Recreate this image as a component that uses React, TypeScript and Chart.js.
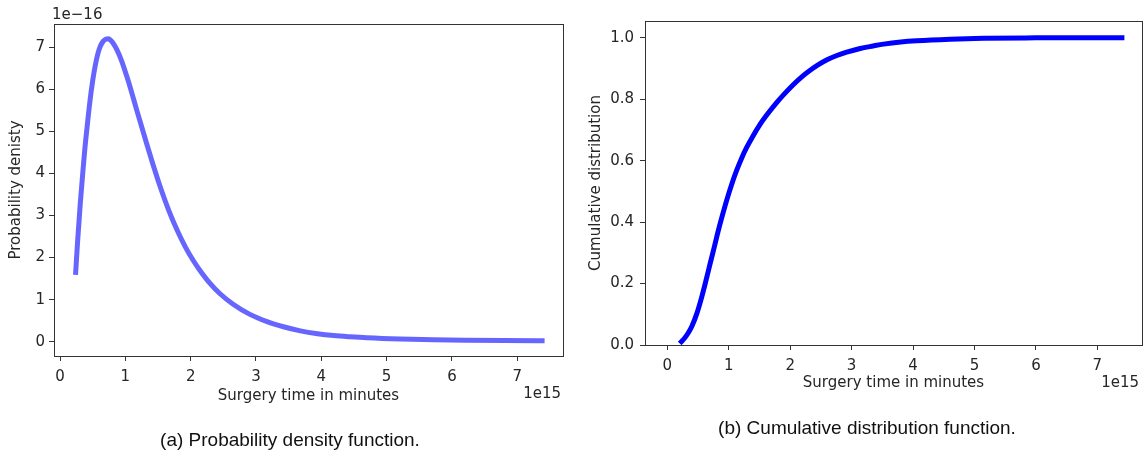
import React, { useEffect, useRef } from "react";
import { Chart, registerables } from "chart.js";

Chart.register(...registerables);

// ---- data (x in units of 1e15 minutes) ----
const X_TICKS = [0, 1, 2, 3, 4, 5, 6, 7];
const PDF_Y_TICKS = [0, 1, 2, 3, 4, 5, 6, 7];
const CDF_Y_TICKS = [0, 0.2, 0.4, 0.6, 0.8, 1.0];

// probability density (y in units of 1e-16)
const PDF_X = [0.24, 0.27, 0.31, 0.35, 0.38, 0.42, 0.46, 0.5, 0.54, 0.58, 0.613, 0.66, 0.7, 0.74, 0.78, 0.82, 0.868, 0.94, 1.02, 1.1, 1.17, 1.25, 1.32, 1.42, 1.53, 1.66, 1.79, 1.92, 2.04, 2.14, 2.3, 2.45, 2.65, 2.9, 3.17, 3.42, 3.68, 3.94, 4.19, 4.45, 4.7, 5.21, 5.72, 6.23, 6.8, 7.38];
const PDF_Y = [1.65, 2.4, 3.28, 4.04, 4.58, 5.18, 5.74, 6.2, 6.57, 6.85, 7.01, 7.14, 7.19, 7.2, 7.16, 7.08, 6.95, 6.69, 6.32, 5.91, 5.53, 5.11, 4.74, 4.23, 3.7, 3.14, 2.66, 2.25, 1.93, 1.7, 1.38, 1.14, 0.89, 0.655, 0.476, 0.355, 0.258, 0.19, 0.145, 0.115, 0.092, 0.062, 0.044, 0.034, 0.027, 0.022];

// cumulative distribution
const CDF_X = [0.23, 0.28, 0.34, 0.4, 0.48, 0.56, 0.63, 0.7, 0.77, 0.83, 0.9, 0.97, 1.05, 1.13, 1.21, 1.29, 1.4, 1.51, 1.64, 1.78, 1.91, 2.05, 2.18, 2.32, 2.46, 2.6, 2.76, 2.92, 3.14, 3.35, 3.52, 3.8, 4.06, 4.6, 5.15, 6.0, 6.8, 7.4];
const CDF_Y = [0.011, 0.022, 0.039, 0.061, 0.102, 0.156, 0.21, 0.267, 0.323, 0.372, 0.424, 0.473, 0.524, 0.569, 0.608, 0.642, 0.682, 0.718, 0.754, 0.789, 0.818, 0.847, 0.871, 0.893, 0.912, 0.928, 0.942, 0.953, 0.965, 0.973, 0.979, 0.986, 0.99, 0.995, 0.998, 0.9995, 1.0, 1.0];

const FONT = "'DejaVu Sans', sans-serif";
const INK = "#262626";
const SPINE = "#333333";

type Txt = { text: string; x: number; y: number; align: CanvasTextAlign };

type PanelProps = {
  left: number;
  width: number;
  height: number;
  xs: number[];
  ys: number[];
  color: string;
  xMin: number;
  xMax: number;
  yMin: number;
  yMax: number;
  yTicks: number[];
  yFmt: (v: number) => string;
  yTitle: string;
  padTop: number;
  padRight: number;
  yWidth: number;
  xHeight: number;
  yTitlePad: number;
  xTitlePad: number;
  yTickPad: number;
  xTickPad: number;
  texts: Txt[];
};

function Panel(p: PanelProps) {
  const ref = useRef<HTMLCanvasElement | null>(null);
  useEffect(() => {
    if (!ref.current) return;
    const framePlugin = {
      id: "frame",
      afterDraw(chart: any) {
        const { ctx, chartArea: a } = chart;
        ctx.save();
        ctx.strokeStyle = SPINE;
        ctx.lineWidth = 1;
        const l = Math.round(a.left) + 0.5;
        const t = Math.round(a.top) + 0.5;
        const r = Math.round(a.right) + 0.5;
        const b = Math.round(a.bottom) + 0.5;
        ctx.strokeRect(l, t, r - l, b - t);
        ctx.fillStyle = INK;
        ctx.font = `15px ${FONT}`;
        ctx.textBaseline = "middle";
        for (const tx of p.texts) {
          ctx.textAlign = tx.align;
          ctx.fillText(tx.text, tx.x, tx.y);
        }
        ctx.restore();
      },
    };
    const chart = new Chart(ref.current, {
      type: "scatter",
      data: {
        datasets: [
          {
            data: p.xs.map((x, i) => ({ x, y: p.ys[i] })),
            showLine: true,
            borderColor: p.color,
            backgroundColor: p.color,
            borderWidth: 5,
            borderCapStyle: "square",
            borderJoinStyle: "round",
            pointRadius: 0,
            cubicInterpolationMode: "monotone",
          } as any,
        ],
      },
      options: {
        animation: false,
        responsive: false,
        maintainAspectRatio: false,
        layout: { padding: { left: 0, top: p.padTop, right: p.padRight, bottom: 0 } },
        plugins: { legend: { display: false }, tooltip: { enabled: false } },
        scales: {
          x: {
            type: "linear",
            min: p.xMin,
            max: p.xMax,
            afterBuildTicks: (s: any) => {
              s.ticks = X_TICKS.map((v) => ({ value: v }));
            },
            afterFit: (s: any) => {
              s.height = p.xHeight;
            },
            ticks: {
              color: INK,
              font: { family: FONT, size: 15 },
              padding: p.xTickPad,
              maxRotation: 0,
              autoSkip: false,
              callback: (v: any) => String(v),
            },
            grid: { display: true, drawOnChartArea: false, drawTicks: true, tickLength: 5, tickColor: SPINE },
            border: { display: false },
            title: {
              display: true,
              text: "Surgery time in minutes",
              color: INK,
              font: { family: FONT, size: 15 },
              padding: { top: 0, bottom: p.xTitlePad },
            },
          },
          y: {
            type: "linear",
            min: p.yMin,
            max: p.yMax,
            afterBuildTicks: (s: any) => {
              s.ticks = p.yTicks.map((v) => ({ value: v }));
            },
            afterFit: (s: any) => {
              s.width = p.yWidth;
            },
            ticks: {
              color: INK,
              font: { family: FONT, size: 15 },
              padding: p.yTickPad,
              autoSkip: false,
              callback: (v: any) => p.yFmt(Number(v)),
            },
            grid: { display: true, drawOnChartArea: false, drawTicks: true, tickLength: 5, tickColor: SPINE },
            border: { display: false },
            title: {
              display: true,
              text: p.yTitle,
              color: INK,
              font: { family: FONT, size: 15 },
              padding: { top: p.yTitlePad, bottom: 0 },
            },
          },
        },
      },
      plugins: [framePlugin],
    } as any);
    return () => chart.destroy();
  }, []);
  return (
    <canvas
      ref={ref}
      width={p.width}
      height={p.height}
      style={{ position: "absolute", left: p.left, top: 0, width: p.width, height: p.height }}
    />
  );
}

const captionStyle: React.CSSProperties = {
  position: "absolute",
  width: 500,
  textAlign: "center",
  whiteSpace: "nowrap",
  fontFamily: "'Liberation Sans', Arial, sans-serif",
  fontSize: 19,
  lineHeight: "22px",
  color: "#111",
};

export default function App() {
  return (
    <div style={{ position: "absolute", left: 0, top: 0, width: 1143, height: 452, background: "#fff", overflow: "hidden" }}>
      <Panel
        left={0}
        width={571}
        height={452}
        xs={PDF_X}
        ys={PDF_Y}
        color="rgba(0,0,255,0.6)"
        xMin={-0.092}
        xMax={7.7}
        yMin={-0.34}
        yMax={7.553}
        yTicks={PDF_Y_TICKS}
        yFmt={(v) => String(Math.round(v))}
        yTitle="Probability denisty"
        padTop={24}
        padRight={8}
        yWidth={54}
        xHeight={96}
        yTitlePad={7}
        xTitlePad={47}
        yTickPad={4}
        xTickPad={7}
        texts={[
          { text: "1e\u221216", x: 52, y: 15, align: "left" },
          { text: "1e15", x: 561, y: 394, align: "right" },
        ]}
      />
      <Panel
        left={571}
        width={572}
        height={452}
        xs={CDF_X}
        ys={CDF_Y}
        color="#0000ff"
        xMin={-0.363}
        xMax={7.727}
        yMin={0}
        yMax={1.0543}
        yTicks={CDF_Y_TICKS}
        yFmt={(v) => v.toFixed(1)}
        yTitle="Cumulative distribution"
        padTop={21}
        padRight={1}
        yWidth={74}
        xHeight={107}
        yTitlePad={16}
        xTitlePad={60}
        yTickPad={6}
        xTickPad={7}
        texts={[{ text: "1e15", x: 568, y: 383, align: "right" }]}
      />
      <div style={{ ...captionStyle, left: 290 - 250, top: 429 }}>(a) Probability density function.</div>
      <div style={{ ...captionStyle, left: 867 - 250, top: 417 }}>(b) Cumulative distribution function.</div>
    </div>
  );
}
